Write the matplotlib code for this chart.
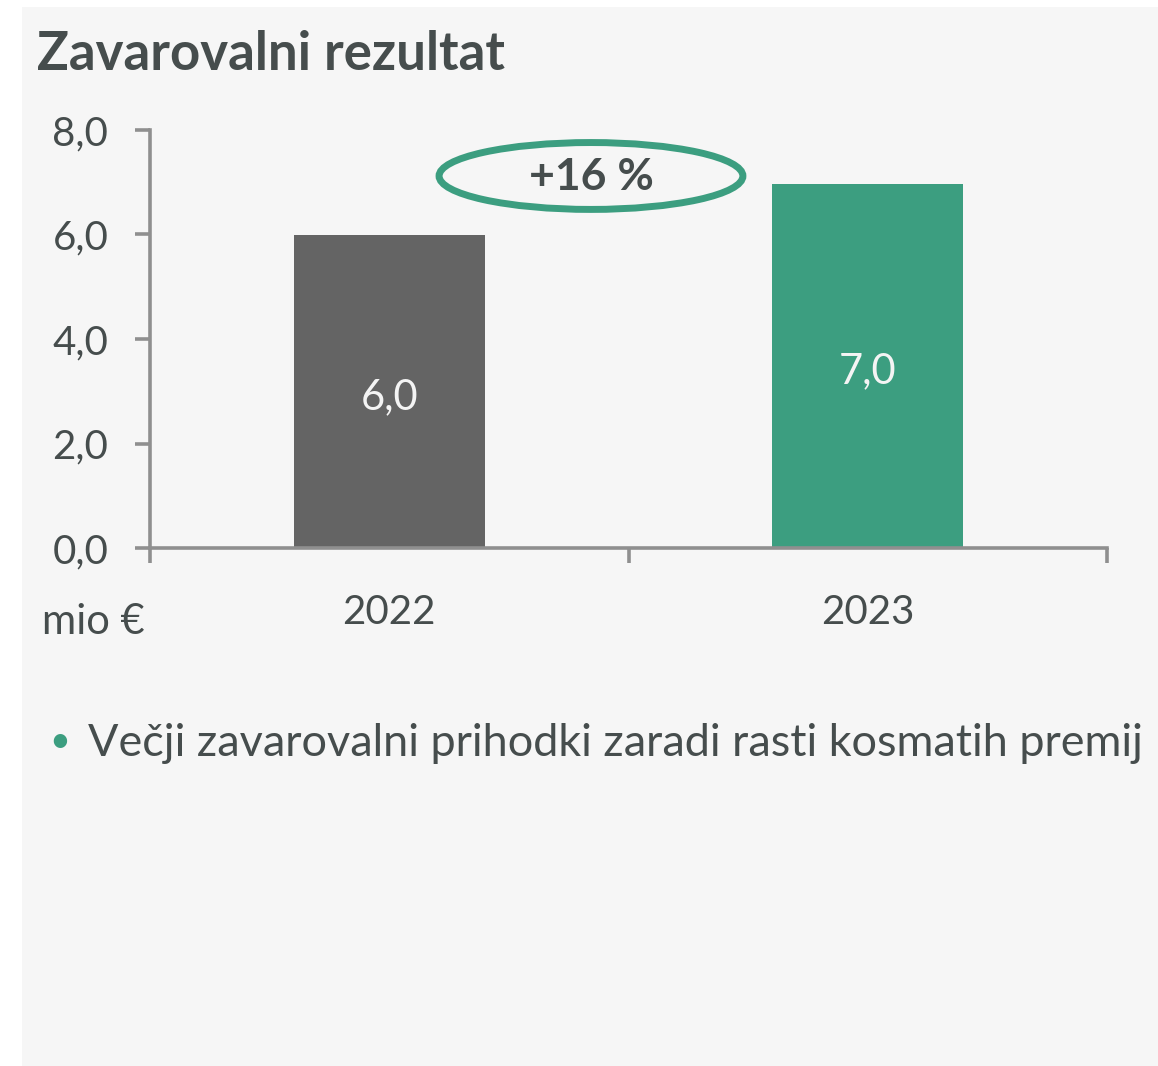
import matplotlib
matplotlib.use("Agg")
import numpy as np
import matplotlib.pyplot as plt
from matplotlib.patches import Ellipse, Rectangle

plt.rcParams.update({
    "font.family": ["Lato", "DejaVu Sans"],
})

# Data
TITLE = "Zavarovalni rezultat"
YEARS = ["2022", "2023"]
VALUES = [5.99, 6.96]
VALUE_LABELS = ["6,0", "7,0"]
YTICKS = [0.0, 2.0, 4.0, 6.0, 8.0]
YTICK_LABELS = ["0,0", "2,0", "4,0", "6,0", "8,0"]
CHANGE_LABEL = "+16 %"
UNIT_LABEL = "mio €"
BULLET = "Večji zavarovalni prihodki zaradi rasti kosmatih premij"

GREY_BAR = "#646464"
GREEN = "#3c9e80"
TEXT = "#464d4d"
AXIS = "#8f8f8f"
PANEL = "#f6f6f6"

W, H = 1158, 1066
fig = plt.figure(figsize=(W / 100, H / 100), dpi=100, facecolor="white")

# light panel behind everything
fig.patches.append(Rectangle((22 / W, 0), 1 - 22 / W, 1 - 7 / H,
                             transform=fig.transFigure, facecolor=PANEL,
                             edgecolor="none", zorder=-10))

ax = fig.add_axes([150 / W, 1 - 548 / H, (1107 - 150) / W, (548 - 130) / H])
ax.set_facecolor("none")

x = np.arange(len(YEARS))
ax.bar(x, VALUES, width=0.4, color=[GREY_BAR, GREEN], zorder=2)
for xi, v, lab in zip(x, VALUES, VALUE_LABELS):
    ax.text(xi, v / 2 - 0.1, lab, ha="center", va="center", color="#f4f4f4",
            fontsize=30)

ax.set_xlim(-0.5, 1.5)
ax.set_ylim(0, 8)
for s in ["top", "right"]:
    ax.spines[s].set_visible(False)
for s in ["left", "bottom"]:
    ax.spines[s].set_color(AXIS)
    ax.spines[s].set_linewidth(2.6)

ax.set_yticks(YTICKS, YTICK_LABELS)
ax.tick_params(axis="y", length=11, width=2.6, color=AXIS, direction="out",
               pad=19, labelsize=29, labelcolor=TEXT)
# category boundaries as ticks, labels at centers
ax.set_xticks([-0.5, 0.5, 1.5])
ax.set_xticklabels([])
ax.set_xticks(x, YEARS, minor=True)
ax.tick_params(axis="x", which="major", length=11, width=2.6, color=AXIS,
               direction="out")
ax.tick_params(axis="x", which="minor", length=0, pad=33, labelsize=29,
               labelcolor=TEXT)

# growth ellipse
ax.add_patch(Ellipse((0.4216, 7.12), 0.635, 1.28, fill=False, edgecolor=GREEN,
                     linewidth=5, clip_on=False, zorder=3))
ax.text(0.4216, 7.1, CHANGE_LABEL, ha="center", va="center", color=TEXT,
        fontsize=32, fontweight="bold")

fig.text(37 / W, 1 - 55 / H, TITLE, ha="left", va="center", color=TEXT,
         fontsize=38, fontweight="bold")
fig.text(42 / W, 1 - 622 / H, UNIT_LABEL, ha="left", va="center", color=TEXT,
         fontsize=30)
fig.text(60 / W, 1 - 742 / H, "•", ha="center", va="center", color=GREEN,
         fontsize=26)
fig.text(88 / W, 1 - 744 / H, BULLET, ha="left", va="center", color=TEXT,
         fontsize=32.4)

fig.savefig("out.png", dpi=100, facecolor="white")
